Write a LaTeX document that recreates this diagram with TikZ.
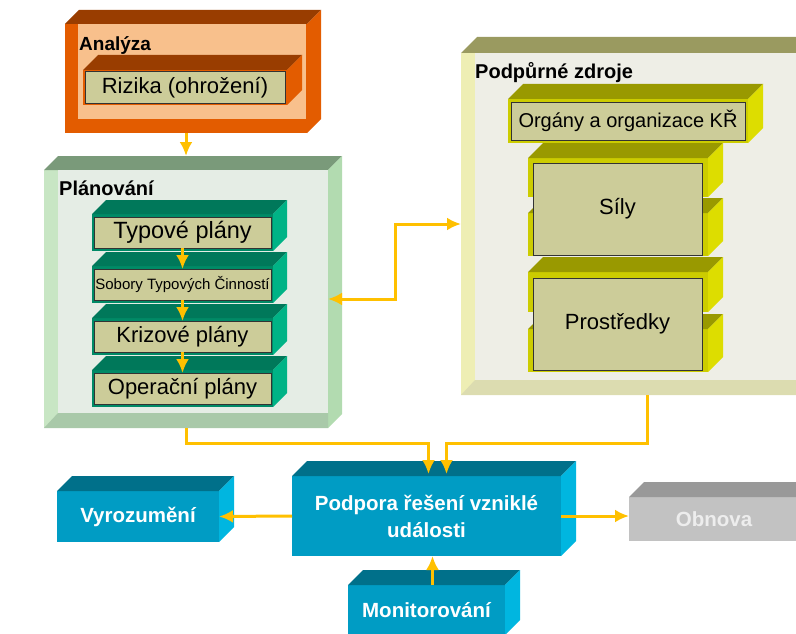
\documentclass[tikz,border=0pt]{standalone}
\usepackage{fontspec}
\setmainfont{Liberation Sans}
\usetikzlibrary{arrows.meta,positioning}

\definecolor{anaTop}{HTML}{993D00}
\definecolor{anaFront}{HTML}{E35C00}
\definecolor{anaIn}{HTML}{F8C08C}
\definecolor{khaki}{HTML}{CCCC99}
\definecolor{planTop}{HTML}{7A9A7A}
\definecolor{planSide}{HTML}{B2DBB0}
\definecolor{planBand}{HTML}{C8E6C4}
\definecolor{planFloor}{HTML}{A9C9A9}
\definecolor{planIn}{HTML}{E5EDE5}
\definecolor{tealTop}{HTML}{00785A}
\definecolor{tealFront}{HTML}{008A66}
\definecolor{tealSide}{HTML}{00B386}
\definecolor{zdrTop}{HTML}{9A9A60}
\definecolor{zdrBand}{HTML}{EEEEB4}
\definecolor{zdrFloor}{HTML}{DCDCB0}
\definecolor{zdrIn}{HTML}{EEEEE6}
\definecolor{yelTop}{HTML}{999900}
\definecolor{yelFront}{HTML}{CCCC00}
\definecolor{yelSide}{HTML}{DDDD00}
\definecolor{bluTop}{HTML}{00708A}
\definecolor{bluFront}{HTML}{009CC4}
\definecolor{bluSide}{HTML}{00B6E0}
\definecolor{gryTop}{HTML}{999999}
\definecolor{gryFront}{HTML}{C2C2C2}
\definecolor{arrYel}{HTML}{FFC000}

% top and right face of a box node: node, depth, top colour, side colour
\newcommand{\boxfaces}[4]{%
  \fill[#3] (#1.north west) -- ([shift={(#2pt,#2pt)}]#1.north west) -- ([shift={(#2pt,#2pt)}]#1.north east) -- (#1.north east) -- cycle;
  \fill[#4] (#1.north east) -- ([shift={(#2pt,#2pt)}]#1.north east) -- ([shift={(#2pt,#2pt)}]#1.south east) -- (#1.south east) -- cycle;
}

\begin{document}
\begin{tikzpicture}[x=1pt,y=-1pt,>={Latex[length=14pt,width=13pt]}]
    \tikzstyle{blk}=[rectangle,inner sep=0pt,outer sep=0pt,anchor=north west]
    \tikzstyle{lbl}=[rectangle,fill=khaki,draw=black!80,line width=0.8pt,inner sep=0pt,outer sep=0pt,font=\fontsize{22}{24}\selectfont]
    \tikzstyle{ttl}=[anchor=base west,inner sep=0pt,font=\bfseries\fontsize{20}{22}\selectfont]
    \tikzstyle{wht}=[text=white,font=\bfseries\fontsize{20.5}{27}\selectfont,align=center]
    \tikzstyle{arr}=[arrYel,line width=3pt]

    \useasboundingbox (0,0) rectangle (796,634);
    \clip (0,0) rectangle (796,634);

    % Analyza
    \node[blk,fill=anaFront,minimum width=242pt,minimum height=109pt] (ana) at (65,24) {};
    \boxfaces{ana}{14}{anaTop}{anaFront}
    \fill[anaIn] ([xshift=13pt]ana.north west) rectangle ([shift={(-1pt,14pt)}]ana.south east);
    \node[ttl,font=\bfseries\fontsize{19}{21}\selectfont] (anaT) at (79,51) {Analýza};
    \node[blk,fill=anaFront,minimum width=204pt,minimum height=35pt] (rizBox) at (83,70) {};
    \boxfaces{rizBox}{15}{anaTop}{anaFront}
    \node[lbl,minimum width=200pt,minimum height=32pt] (riz) at (rizBox) {Rizika (ohrožení)};

    % Planovani
    \node[blk,fill=planBand,minimum width=284pt,minimum height=258pt] (plan) at (44,170) {};
    \boxfaces{plan}{14}{planTop}{planSide}
    \fill[planIn] ([xshift=14pt]plan.north west) rectangle ([yshift=15pt]plan.south east);
    \fill[planFloor] (plan.south west) -- ([shift={(14pt,15pt)}]plan.south west) -- ([yshift=15pt]plan.south east) -- (plan.south east) -- cycle;
    \node[ttl] (planT) at (59,195) {Plánování};

    \node[blk,fill=tealFront,minimum width=181pt,minimum height=37pt] (typBox) at (92,214) {};
    \node[blk,fill=tealFront,minimum width=181pt,minimum height=37pt,below=15pt of typBox] (sobBox) {};
    \node[blk,fill=tealFront,minimum width=181pt,minimum height=37pt,below=15pt of sobBox] (kriBox) {};
    \node[blk,fill=tealFront,minimum width=181pt,minimum height=37pt,below=15pt of kriBox] (opeBox) {};
    \boxfaces{typBox}{14}{tealTop}{tealSide}
    \boxfaces{sobBox}{14}{tealTop}{tealSide}
    \boxfaces{kriBox}{14}{tealTop}{tealSide}
    \boxfaces{opeBox}{14}{tealTop}{tealSide}
    \node[lbl,minimum width=177pt,minimum height=31pt,font=\fontsize{23.5}{25}\selectfont] (typ) at (typBox) {Typové plány};
    \node[lbl,minimum width=177pt,minimum height=31pt,font=\fontsize{15}{17}\selectfont] (sob) at (sobBox) {Sobory Typových Činností};
    \node[lbl,minimum width=177pt,minimum height=31pt] (kri) at (kriBox) {Krizové plány};
    \node[lbl,minimum width=177pt,minimum height=31pt] (ope) at (opeBox) {Operační plány};

    % Podpurne zdroje
    \node[blk,fill=zdrBand,minimum width=372pt,minimum height=342pt] (zdr) at (461,53) {};
    \boxfaces{zdr}{16}{zdrTop}{zdrTop}
    \fill[zdrIn] ([xshift=14pt]zdr.north west) rectangle ([yshift=15pt]zdr.south east);
    \fill[zdrFloor] (zdr.south west) -- ([shift={(14pt,15pt)}]zdr.south west) -- ([yshift=15pt]zdr.south east) -- (zdr.south east) -- cycle;
    \node[ttl] (zdrT) at (475,79) {Podpůrné zdroje};

    \node[blk,fill=yelFront,minimum width=240pt,minimum height=44pt] (orgBox) at (508,99) {};
    \boxfaces{orgBox}{15}{yelTop}{yelSide}
    \node[lbl,minimum width=234pt,minimum height=38pt,font=\fontsize{20}{22}\selectfont] (org) at (orgBox) {Orgány a organizace KŘ};

    \node[blk,fill=yelFront,minimum width=180pt,minimum height=39pt] (silyA) at (528,158) {};
    \boxfaces{silyA}{15}{yelTop}{yelSide}
    \node[blk,fill=yelFront,minimum width=180pt,minimum height=43pt] (silyB) at (528,213) {};
    \boxfaces{silyB}{15}{yelTop}{yelSide}
    \node[blk,fill=yelFront,minimum width=180pt,minimum height=40pt] (prosA) at (528,272) {};
    \boxfaces{prosA}{15}{yelTop}{yelSide}
    \node[blk,fill=yelFront,minimum width=180pt,minimum height=43pt] (prosB) at (528,329) {};
    \boxfaces{prosB}{15}{yelTop}{yelSide}
    \node[lbl,minimum width=169pt,minimum height=92pt] (sily) at (617.5,209) {Síly};
    \node[lbl,minimum width=169pt,minimum height=92pt] (pros) at (617.5,324) {Prostředky};

    % bottom row
    \node[blk,wht,fill=bluFront,minimum width=269pt,minimum height=80pt] (pod) at (292,476) {Podpora řešení vzniklé\\události};
    \boxfaces{pod}{15}{bluTop}{bluSide}
    \node[blk,wht,fill=bluFront,minimum width=162pt,minimum height=51pt] (vyr) at (57,491) {Vyrozumění};
    \boxfaces{vyr}{15}{bluTop}{bluSide}
    \node[blk,wht,text=black!7,fill=gryFront,minimum width=170pt,minimum height=44pt] (obn) at (629,497) {Obnova};
    \boxfaces{obn}{15}{gryTop}{gryTop}
    \node[blk,wht,fill=bluFront,minimum width=157pt,minimum height=50pt] (mon) at (348,585) {Monitorování};
    \boxfaces{mon}{15}{bluTop}{bluSide}

    % arrows
    \draw[arr,->] (ana.south) -- ([yshift=14pt]plan.north);
    \draw[arr,->] (typ) -- (sob);
    \draw[arr,->] (sob) -- (kri);
    \draw[arr,->] (kri) -- (ope);
    \draw[arr,<->] (plan.east) -- ([xshift=67pt]plan.east) |- (zdr.west);
    \draw[arr,->] (plan.south) -- ++(0,15) -| ([shift={(2pt,2pt)}]pod.north);
    \draw[arr,->] (zdr.south) -- ++(0,48) -| ([shift={(20pt,2pt)}]pod.north);
    \draw[arr,->] (pod.west) -- (vyr.east);
    \draw[arr,->] (pod.east) -- (pod.east -| obn.west);
    \draw[arr,->] ([xshift=6pt]mon.north) -- ([xshift=6pt]pod.south);
\end{tikzpicture}
\end{document}
